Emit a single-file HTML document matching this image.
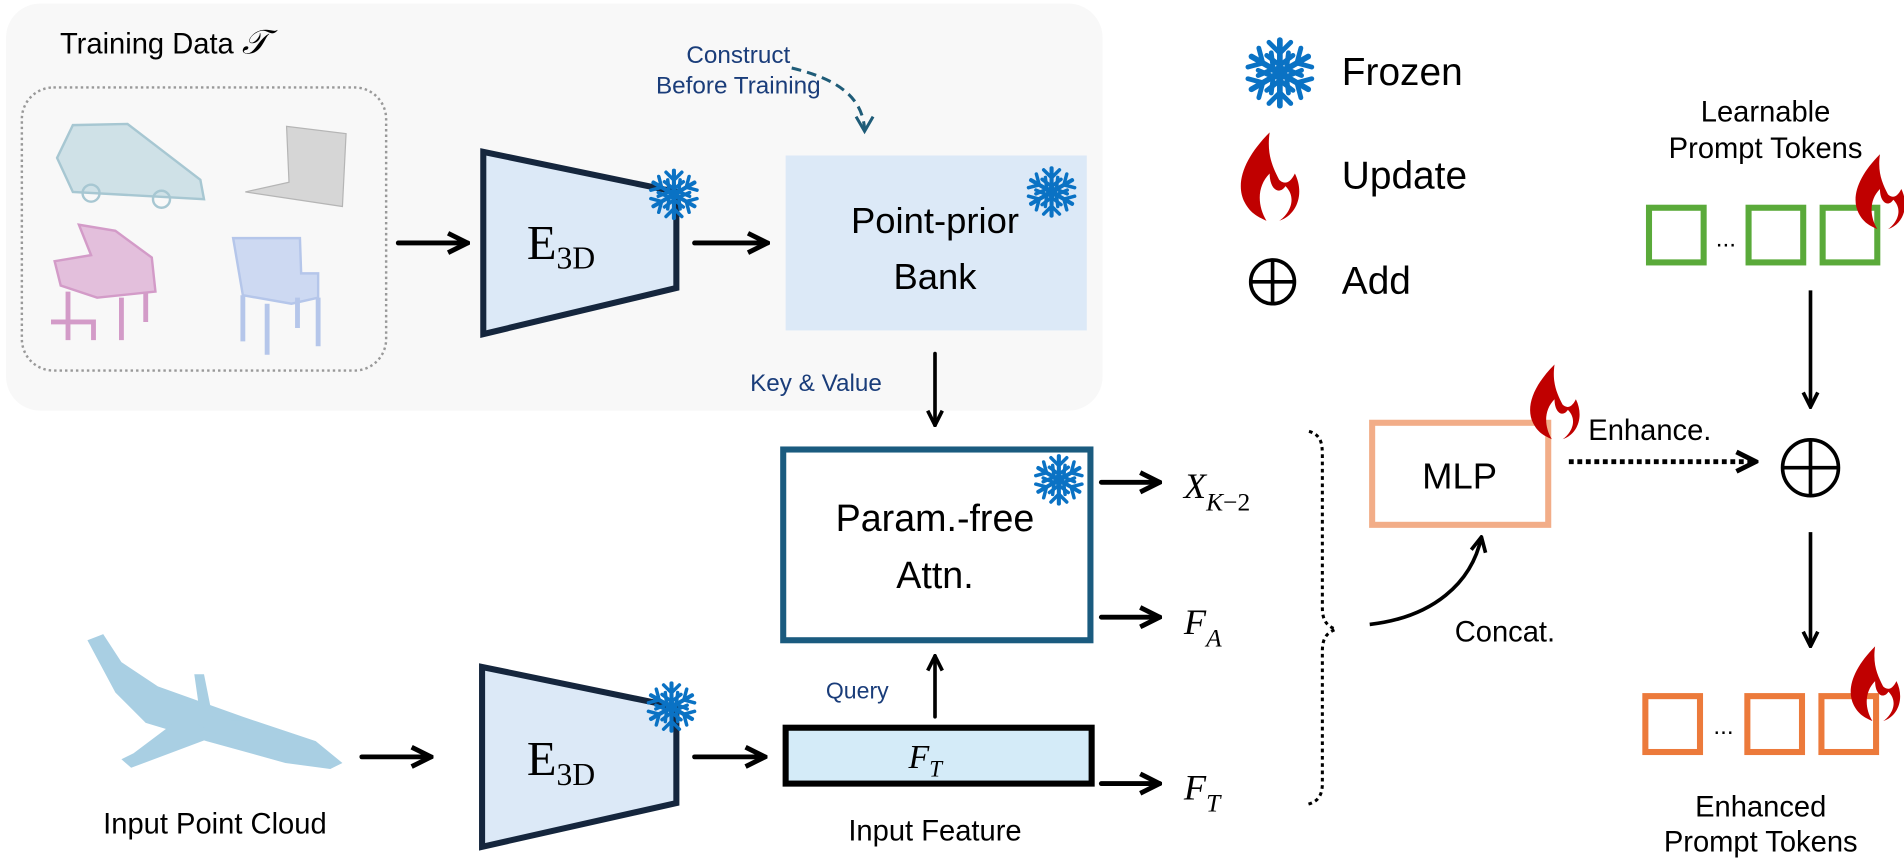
<!DOCTYPE html>
<html><head><meta charset="utf-8"><style>
html,body{margin:0;padding:0;background:#fff;overflow:hidden;}
svg{display:block;}
text{font-family:"Liberation Sans Narrow","Liberation Sans",sans-serif;}
.m{font-family:"Liberation Serif",serif;}
</style></head><body>
<svg width="1904" height="865" viewBox="0 0 1568 712" preserveAspectRatio="none" xmlns="http://www.w3.org/2000/svg">
<defs>
<g id="arm"><line x1="0" y1="0" x2="0" y2="-15" stroke="#0a72c4" stroke-width="2.6" stroke-linecap="round"/><polyline points="-5,-14 0,-9 5,-14" fill="none" stroke="#0a72c4" stroke-width="2.2" stroke-linecap="round"/><polyline points="-6,-8 0,-3.5 6,-8" fill="none" stroke="#0a72c4" stroke-width="2.2" stroke-linecap="round"/></g>
<g id="snow"><use href="#arm"/><use href="#arm" transform="rotate(60)"/><use href="#arm" transform="rotate(120)"/><use href="#arm" transform="rotate(180)"/><use href="#arm" transform="rotate(240)"/><use href="#arm" transform="rotate(300)"/><circle r="3.5" fill="#0a72c4"/></g>
<path id="flame" d="M2,-30 C-14,-14 -20,2 -14,14 C-10,22 -4,24 0,26 C-6,16 -6,4 2,-4 C2,6 8,10 12,4 C20,12 14,22 8,26 C20,22 24,8 18,-4 C14,4 10,2 8,0 C4,-8 0,-16 2,-30 Z" fill="#c00000"/>
<marker id="ah" viewBox="0 0 10 10" refX="9" refY="5" markerWidth="5" markerHeight="5" orient="auto"><polyline points="1,1 9,5 1,9" fill="none" stroke="#000" stroke-width="2"/></marker>
</defs>

<!-- gray panel -->
<rect x="5" y="3" width="903" height="335" rx="28" fill="#f8f8f8"/>
<text x="135" y="44" font-size="24" text-anchor="middle">Training Data <tspan class="m" font-style="italic" font-size="28">𝒯</tspan></text>
<rect x="18" y="72" width="300" height="233" rx="26" fill="none" stroke="#999" stroke-width="2" stroke-dasharray="2,2.5"/>
<!-- car -->
<path d="M47,130 L60,103 L105,102 L165,148 L168,164 L60,158 Z" fill="#cfe1e7" stroke="#a7c7d2" stroke-width="2"/>
<circle cx="75" cy="159" r="7" fill="none" stroke="#a7c7d2" stroke-width="2"/><circle cx="133" cy="164" r="7" fill="none" stroke="#a7c7d2" stroke-width="2"/>
<!-- laptop -->
<path d="M236,104 L285,110 L282,170 L202,158 L238,150 Z" fill="#d6d6d6" stroke="#b5b5b5" stroke-width="1"/>
<!-- piano -->
<path d="M65,185 L95,190 L125,212 L128,240 L80,245 L50,235 L45,215 L75,210 Z" fill="#e3bfdc" stroke="#d39bc8" stroke-width="2"/>
<path d="M56,240 v40 M100,245 v35 M120,240 v25 M42,265 h35 v15" fill="none" stroke="#d39bc8" stroke-width="4"/>
<!-- chair -->
<path d="M192,196 L247,196 L248,225 L262,225 L262,245 L240,250 L200,243 Z" fill="#cdd9f2" stroke="#b5c6ea" stroke-width="2"/>
<path d="M200,243 v38 M220,250 v42 M262,245 v40 M245,245 v25" fill="none" stroke="#b5c6ea" stroke-width="4"/>

<!-- arrows -->
<g stroke="#000" stroke-width="4" fill="none" stroke-linecap="round">
<line x1="328" y1="200" x2="385" y2="200" marker-end="url(#ah)"/>
<line x1="572" y1="200" x2="632" y2="200" marker-end="url(#ah)"/>
<line x1="770" y1="291" x2="770" y2="350" stroke-width="3" marker-end="url(#ah)"/>
<line x1="298" y1="623" x2="355" y2="623" marker-end="url(#ah)"/>
<line x1="572" y1="623" x2="630" y2="623" marker-end="url(#ah)"/>
<line x1="770" y1="590" x2="770" y2="540" stroke-width="3" marker-end="url(#ah)"/>
<line x1="907" y1="397" x2="955" y2="397" marker-end="url(#ah)"/>
<line x1="907" y1="508" x2="955" y2="508" marker-end="url(#ah)"/>
<line x1="907" y1="645" x2="955" y2="645" marker-end="url(#ah)"/>
</g>

<!-- E3D top -->
<polygon points="398,125 557,158 557,237 398,275" fill="#dce9f7" stroke="#15263d" stroke-width="5"/>
<text x="462" y="213" class="m" font-size="40" text-anchor="middle">E<tspan font-size="26" dy="8">3D</tspan></text>
<use href="#snow" transform="translate(555,160) scale(1.3)"/>

<!-- Point prior bank -->
<rect x="647" y="128" width="248" height="144" fill="#dce9f7"/>
<text x="770" y="192" font-size="30" text-anchor="middle">Point-prior</text>
<text x="770" y="238" font-size="30" text-anchor="middle">Bank</text>
<use href="#snow" transform="translate(866,158) scale(1.3)"/>

<text x="608" y="52" font-size="20" fill="#1a3d7a" text-anchor="middle">Construct</text>
<text x="608" y="77" font-size="20" fill="#1a3d7a" text-anchor="middle">Before Training</text>
<path d="M652,56 C690,65 710,80 712,106" fill="none" stroke="#1f5c78" stroke-width="2.5" stroke-dasharray="8,5"/>
<polyline points="705,96 712,108 719,96" fill="none" stroke="#1f5c78" stroke-width="2.5"/>

<text x="672" y="322" font-size="20" fill="#1a3d7a" text-anchor="middle">Key &amp; Value</text>

<!-- Param-free attn -->
<rect x="645" y="370" width="253" height="157" fill="#fff" stroke="#1a5b7f" stroke-width="5"/>
<text x="770" y="437" font-size="31" text-anchor="middle">Param.-free</text>
<text x="770" y="484" font-size="31" text-anchor="middle">Attn.</text>
<use href="#snow" transform="translate(872,395) scale(1.3)"/>

<!-- lower E3D -->
<polygon points="397,549 557,582 557,661 397,697" fill="#dce9f7" stroke="#15263d" stroke-width="5"/>
<text x="462" y="638" class="m" font-size="40" text-anchor="middle">E<tspan font-size="26" dy="8">3D</tspan></text>
<use href="#snow" transform="translate(553,582) scale(1.3)"/>

<!-- airplane -->
<g fill="#a9cfe3">
<path d="M72,527 L85,522 L100,545 L130,565 L200,590 L260,610 L282,628 L272,633 L235,628 L170,610 L120,595 L95,570 Z"/>
<path d="M150,590 L110,620 L100,625 L108,632 L180,605 Z"/>
<path d="M160,555 L168,555 L175,590 L165,590 Z"/>
<path d="M190,593 L205,593 L225,603 L205,605 Z"/>
</g>
<text x="177" y="686" font-size="24" text-anchor="middle">Input Point Cloud</text>

<!-- F_T bar -->
<rect x="647" y="599" width="252" height="46" fill="#d4ebf8" stroke="#000" stroke-width="5"/>
<text x="762" y="632" class="m" font-size="28" font-style="italic" text-anchor="middle">F<tspan font-size="19" dy="7">T</tspan></text>
<text x="706" y="575" font-size="19" fill="#1a3d7a" text-anchor="middle">Query</text>
<text x="770" y="692" font-size="24" text-anchor="middle">Input Feature</text>

<!-- math labels -->
<text x="975" y="410" class="m" font-size="30" font-style="italic">X<tspan font-size="21" dy="10">K</tspan><tspan font-size="21" font-style="normal">−2</tspan></text>
<text x="975" y="522" class="m" font-size="30" font-style="italic">F<tspan font-size="21" dy="10">A</tspan></text>
<text x="975" y="658" class="m" font-size="30" font-style="italic">F<tspan font-size="21" dy="10">T</tspan></text>
<path d="M1078,355 C1088,358 1089,365 1089,375 L1089,500 C1089,510 1092,515 1100,518 C1092,521 1089,526 1089,536 L1089,645 C1089,655 1085,660 1077,662" fill="none" stroke="#000" stroke-width="2.5" stroke-dasharray="3,3"/>

<!-- MLP -->
<rect x="1130" y="348" width="145" height="84" fill="#fff" stroke="#f2ad88" stroke-width="5"/>
<text x="1202" y="402" font-size="30" text-anchor="middle">MLP</text>
<use href="#flame" transform="translate(1278,333) scale(1.1)"/>
<!-- concat curve -->
<path d="M1128,514 C1180,508 1212,480 1220,442" fill="none" stroke="#000" stroke-width="3" marker-end="url(#ah)"/>
<text x="1198" y="528" font-size="24">Concat.</text>
<text x="1308" y="362" font-size="24">Enhance.</text>
<line x1="1292" y1="380" x2="1446" y2="380" stroke="#000" stroke-width="4" stroke-dasharray="4,3" marker-end="url(#ah)"/>

<!-- plus -->
<g fill="none" stroke="#000" stroke-width="3">
<circle cx="1491" cy="385" r="23"/><line x1="1468" y1="385" x2="1514" y2="385"/><line x1="1491" y1="362" x2="1491" y2="408"/>
</g>
<g stroke="#000" stroke-width="3" fill="none">
<line x1="1491" y1="239" x2="1491" y2="335" marker-end="url(#ah)"/>
<line x1="1491" y1="438" x2="1491" y2="532" marker-end="url(#ah)"/>
</g>

<!-- legend -->
<use href="#snow" transform="translate(1054,60) scale(1.8)"/>
<text x="1105" y="70" font-size="32">Frozen</text>
<use href="#flame" transform="translate(1043,148) scale(1.3)"/>
<text x="1105" y="155" font-size="32">Update</text>
<g fill="none" stroke="#000" stroke-width="3"><circle cx="1048" cy="232" r="18"/><line x1="1030" y1="232" x2="1066" y2="232"/><line x1="1048" y1="214" x2="1048" y2="250"/></g>
<text x="1105" y="242" font-size="32">Add</text>

<!-- learnable tokens -->
<text x="1454" y="100" font-size="24" text-anchor="middle">Learnable</text>
<text x="1454" y="130" font-size="24" text-anchor="middle">Prompt Tokens</text>
<g fill="none" stroke="#5aaa3a" stroke-width="5">
<rect x="1358" y="171" width="45" height="45"/>
<rect x="1440" y="171" width="45" height="45"/>
<rect x="1501" y="171" width="45" height="45"/>
</g>
<text x="1413" y="203" font-size="20">...</text>
<use href="#flame" transform="translate(1546,160) scale(1.1)"/>

<!-- enhanced tokens -->
<g fill="none" stroke="#ec7a3b" stroke-width="5">
<rect x="1355" y="573" width="45" height="46"/>
<rect x="1439" y="573" width="45" height="46"/>
<rect x="1500" y="573" width="45" height="46"/>
</g>
<text x="1411" y="604" font-size="20">...</text>
<use href="#flame" transform="translate(1542,565) scale(1.1)"/>
<text x="1450" y="672" font-size="24" text-anchor="middle">Enhanced</text>
<text x="1450" y="701" font-size="24" text-anchor="middle">Prompt Tokens</text>
</svg>
</body></html>
